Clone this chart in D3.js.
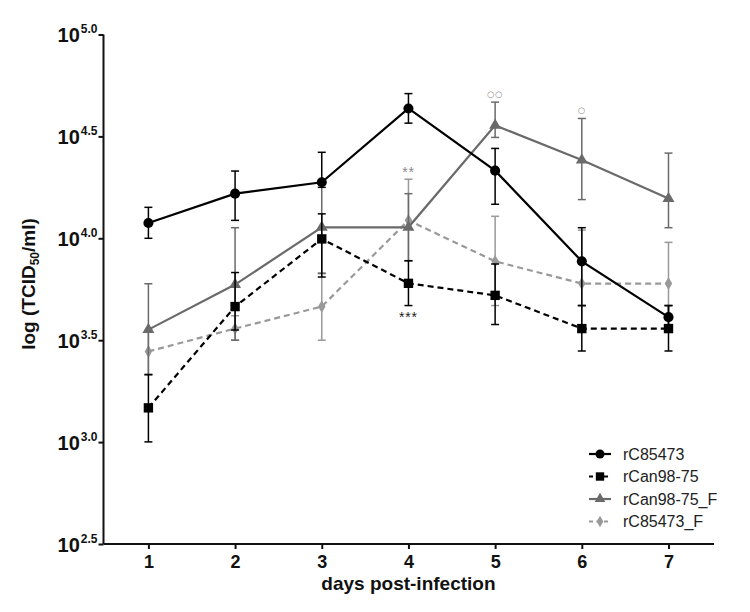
<!DOCTYPE html>
<html>
<head>
<meta charset="utf-8">
<script src="https://cdn.jsdelivr.net/npm/d3@7"></script>
<style>
  html, body { margin: 0; padding: 0; background: #fff; }
  svg { display: block; font-family: "Liberation Sans", Arial, sans-serif; }
</style>
</head>
<body>
<svg id="chart" width="750" height="612"></svg>
<script>
// ---- data ----
const days = [1, 2, 3, 4, 5, 6, 7];
const yTicks = [2.5, 3.0, 3.5, 4.0, 4.5, 5.0];
const seriesNames = ["rC85473", "rCan98-75", "rCan98-75_F", "rC85473_F"];

const rC85473      = [4.075, 4.219, 4.275, 4.637, 4.332, 3.887, 3.613];
const rC85473Hi    = [4.152, 4.330, 4.422, 4.710, 4.441, 4.052, 3.670];
const rC85473Lo    = [4.000, 4.088, 4.250, 4.565, 4.167, 3.670, 3.557];

const rCan9875     = [3.168, 3.665, 3.997, 3.779, 3.720, 3.557, 3.557];
const rCan9875Hi   = [3.332, 3.832, 4.120, 3.890, 3.874, 3.670, 3.670];
const rCan9875Lo   = [3.001, 3.550, 3.810, 3.670, 3.577, 3.447, 3.447];

const rCan9875F    = [3.552, 3.773, 4.054, 4.054, 4.554, 4.384, 4.195];
const rCan9875FHi  = [3.777, 4.052, 4.284, 4.219, 4.668, 4.588, 4.418];
const rCan9875FLo  = [3.330, 3.500, 3.827, 3.890, 4.495, 4.190, 4.052];

const rC85473F     = [3.445, 3.557, 3.665, 4.088, 3.887, 3.778, 3.778];
const rC85473FHi   = [3.550, 3.620, 3.830, 4.290, 4.108, 4.040, 3.980];
const rC85473FLo   = [3.330, 3.500, 3.500, 3.890, 3.670, 3.560, 3.570];

// significance marks: [label, day, series index, above(true)/below(false)]
const marks = [
  ["**", 4, 3, true],
  ["***", 4, 1, false],
  ["\u25CB\u25CB", 5, 2, true],
  ["\u25CB", 6, 2, true]
];

// ---- build ----
const series = [
  { name: seriesNames[0], v: rC85473,   hi: rC85473Hi,   lo: rC85473Lo,   color: "#000000", dash: null,  sym: d3.symbolCircle,   size: 80 },
  { name: seriesNames[1], v: rCan9875,  hi: rCan9875Hi,  lo: rCan9875Lo,  color: "#000000", dash: "6,4", sym: d3.symbolSquare,   size: 88 },
  { name: seriesNames[2], v: rCan9875F, hi: rCan9875FHi, lo: rCan9875FLo, color: "#6a6a6a", dash: null,  sym: d3.symbolTriangle, size: 62 },
  { name: seriesNames[3], v: rC85473F,  hi: rC85473FHi,  lo: rC85473FLo,  color: "#999999", dash: "6,4", sym: d3.symbolDiamond,  size: 48 }
];

const svg = d3.select("#chart");
const x = d3.scaleLinear().domain([0.482, 7.525]).range([103.5, 714]);
const y = d3.scaleLinear().domain([2.5, 5.0]).range([544, 34.5]);

// axes
const gx = svg.append("g").attr("transform", `translate(0,${y(2.5)})`)
  .call(d3.axisBottom(x).tickValues(days).tickSize(5).tickPadding(6).tickFormat(d3.format("d")));
gx.select(".domain").attr("d", `M${x.range()[0]},0H${x.range()[1]}`).attr("stroke-width", 2).attr("stroke", "#111");
gx.selectAll(".tick line").attr("stroke-width", 2).attr("stroke", "#111");
gx.selectAll(".tick text").attr("font-size", 18).attr("font-weight", "bold").attr("fill", "#111")
  .attr("font-family", "Liberation Sans, Arial, sans-serif");

const gy = svg.append("g").attr("transform", `translate(${x.range()[0]},0)`)
  .call(d3.axisLeft(y).tickValues(yTicks).tickSize(5).tickFormat(""));
gy.select(".domain").attr("d", `M0,${y.range()[0]}V${y.range()[1]}`).attr("stroke-width", 2).attr("stroke", "#111");
gy.selectAll(".tick line").attr("stroke-width", 2).attr("stroke", "#111");
gy.selectAll(".tick").each(function(d) {
  const t = d3.select(this).append("text")
    .attr("x", -6).attr("y", 7)
    .attr("text-anchor", "end")
    .attr("font-weight", "bold").attr("fill", "#111")
    .attr("font-family", "Liberation Sans, Arial, sans-serif");
  t.append("tspan").attr("font-size", 20).text("10");
  t.append("tspan").attr("font-size", 12).attr("dx", 1).attr("dy", -9).text(d.toFixed(1));
});

// axis titles
svg.append("text")
  .attr("x", x(4)).attr("y", 590)
  .attr("text-anchor", "middle").attr("font-size", 19).attr("font-weight", "bold").attr("fill", "#111")
  .text("days post-infection");

const yt = svg.append("text")
  .attr("transform", `translate(35,284) rotate(-90)`)
  .attr("text-anchor", "middle").attr("font-size", 19).attr("font-weight", "bold").attr("fill", "#111");
yt.append("tspan").text("log (TCID");
yt.append("tspan").attr("font-size", 12).attr("dy", 4).text("50");
yt.append("tspan").attr("dy", -4).text("/ml)");

// series drawing (grey ones first, black on top)
const order = [3, 2, 1, 0];
const line = d3.line().x((d, i) => x(days[i])).y(d => y(d));
const capW = 4;

order.forEach(si => {
  const s = series[si];
  const g = svg.append("g");
  // error bars
  days.forEach((d, i) => {
    const eb = g.append("g").attr("stroke", s.color).attr("stroke-width", 1.5).attr("fill", "none");
    eb.append("line").attr("x1", x(d)).attr("x2", x(d)).attr("y1", y(s.hi[i])).attr("y2", y(s.lo[i]));
    eb.append("line").attr("x1", x(d) - capW).attr("x2", x(d) + capW).attr("y1", y(s.hi[i])).attr("y2", y(s.hi[i]));
    eb.append("line").attr("x1", x(d) - capW).attr("x2", x(d) + capW).attr("y1", y(s.lo[i])).attr("y2", y(s.lo[i]));
  });
  // line
  g.append("path").datum(s.v).attr("d", line)
    .attr("fill", "none").attr("stroke", s.color).attr("stroke-width", 2.2)
    .attr("stroke-dasharray", s.dash);
  // markers
  g.selectAll(".m").data(s.v).enter().append("path")
    .attr("transform", (v, i) => `translate(${x(days[i])},${y(v)})`)
    .attr("d", d3.symbol().type(s.sym).size(s.size))
    .attr("fill", s.color);
});

// significance marks
marks.forEach(([label, day, si, above]) => {
  const s = series[si];
  const i = days.indexOf(day);
  const isCircle = label.indexOf("\u25CB") >= 0;
  svg.append("text")
    .attr("x", x(day))
    .attr("y", above ? y(s.hi[i]) - (isCircle ? 5 : 2) : y(s.lo[i]) + 16)
    .attr("text-anchor", "middle")
    .attr("font-family", isCircle ? "DejaVu Sans, sans-serif" : "Liberation Sans, Arial, sans-serif")
    .attr("font-size", isCircle ? 8.5 : 14)
    .attr("letter-spacing", 0.8)
    .attr("fill", si === 1 ? "#222" : "#888")
    .text(label);
});

// legend
const lg = svg.append("g");
series.forEach((s, i) => {
  const cy = 454 + i * 22.5;
  const row = lg.append("g");
  row.append("line").attr("x1", 589).attr("x2", 611).attr("y1", cy).attr("y2", cy)
    .attr("stroke", s.color).attr("stroke-width", 2.2).attr("stroke-dasharray", s.dash ? "4,3.5" : null);
  row.append("path").attr("transform", `translate(600,${cy})`)
    .attr("d", d3.symbol().type(s.sym).size(s.size * 0.8)).attr("fill", s.color);
  row.append("text").attr("x", 623).attr("y", cy).attr("dy", "0.36em")
    .attr("font-size", 16).attr("fill", "#222").text(s.name);
});
</script>
</body>
</html>
